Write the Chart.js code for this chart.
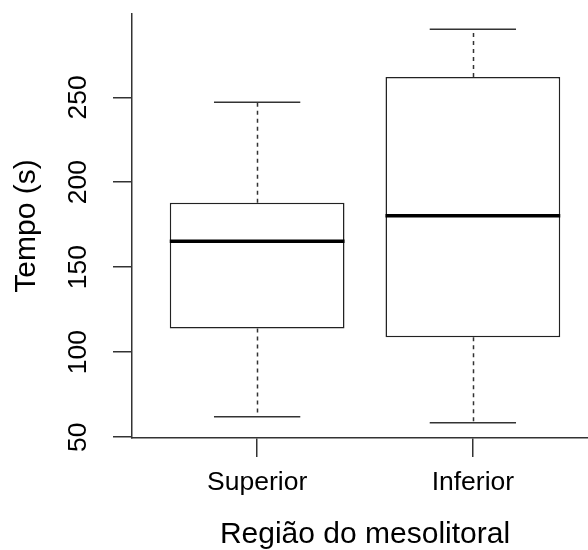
<!DOCTYPE html>
<html>
<head>
<meta charset="utf-8">
<script src="https://cdn.jsdelivr.net/npm/chart.js@4/dist/chart.umd.min.js"></script>
<style>
  html, body { margin: 0; padding: 0; background: #fff; overflow: hidden; }
  #wrap { width: 588px; height: 550px; overflow: hidden; }
</style>
</head>
<body>
<div id="wrap"><canvas id="myChart" width="600" height="550"></canvas></div>
<script>
const ctx = document.getElementById('myChart').getContext('2d');

// categories and five-number summaries
const categories = ['Superior', 'Inferior'];
const mins = [62, 58.5];
const q1s = [114, 108.8];
const medians = [165.3, 180.3];
const q3s = [188, 262];
const maxs = [247, 290];
const yTicks = [50, 100, 150, 200, 250];

const lineColor = '#333';
const fontFamily = '"Liberation Sans", Arial, sans-serif';

// whiskers, caps and median line, drawn through the chart scales
const boxExtras = {
  id: 'boxExtras',
  afterDatasetsDraw(chart) {
    const x = chart.scales.x;
    const y = chart.scales.y;
    const c = chart.ctx;
    c.save();
    for (let i = 0; i < categories.length; i++) {
      const cx = Math.round(x.getPixelForValue(i + 1)) + 0.5;
      const capL = x.getPixelForValue(i + 1 - 0.2);
      const capR = x.getPixelForValue(i + 1 + 0.2);
      const boxL = x.getPixelForValue(i + 1 - 0.405);
      const boxR = x.getPixelForValue(i + 1 + 0.405);

      c.strokeStyle = lineColor;
      c.lineWidth = 1.5;
      // dashed whiskers
      c.setLineDash([4, 4]);
      c.beginPath();
      c.moveTo(cx, y.getPixelForValue(q3s[i]));
      c.lineTo(cx, y.getPixelForValue(maxs[i]));
      c.moveTo(cx, y.getPixelForValue(q1s[i]));
      c.lineTo(cx, y.getPixelForValue(mins[i]));
      c.stroke();
      // caps
      c.setLineDash([]);
      c.beginPath();
      c.moveTo(capL, y.getPixelForValue(maxs[i]));
      c.lineTo(capR, y.getPixelForValue(maxs[i]));
      c.moveTo(capL, y.getPixelForValue(mins[i]));
      c.lineTo(capR, y.getPixelForValue(mins[i]));
      c.stroke();
      // median
      c.strokeStyle = '#000';
      c.lineWidth = 3.5;
      c.beginPath();
      c.moveTo(boxL, y.getPixelForValue(medians[i]));
      c.lineTo(boxR, y.getPixelForValue(medians[i]));
      c.stroke();
    }
    c.restore();
  }
};

const boxData = categories.map((name, i) => ({ x: i + 1, y: [q1s[i], q3s[i]] }));

const myChart = new Chart(ctx, {
  type: 'bar',
  data: {
    datasets: [
      {
        label: 'Tempo',
        data: boxData,
        backgroundColor: '#fff',
        borderColor: '#222',
        borderWidth: 1.5,
        borderSkipped: false,
        barPercentage: 0.81,
        categoryPercentage: 1,
      },
    ],
  },
  options: {
    responsive: false,
    animation: false,
    layout: { padding: { top: 14, right: 2, left: 0, bottom: 0 } },
    plugins: { legend: { display: false }, tooltip: { enabled: false } },
    scales: {
      x: {
        type: 'linear',
        min: 0.42,
        max: 2.58,
        offset: false,
        afterBuildTicks: (scale) => { scale.ticks = categories.map((c, i) => ({ value: i + 1 })); },
        afterFit: (scale) => { scale.height = 112; scale.paddingLeft = 0; scale.paddingRight = 0; },
        grid: { offset: false, drawOnChartArea: false, drawTicks: true, tickLength: 19, color: lineColor, lineWidth: 1.5 },
        border: { display: true, color: lineColor, width: 1.5 },
        ticks: {
          color: '#000',
          padding: 10,
          maxRotation: 0,
          font: { family: fontFamily, size: 26.5 },
          callback: (v) => categories[v - 1],
        },
        title: {
          display: true,
          text: 'Região do mesolitoral',
          color: '#000',
          font: { family: fontFamily, size: 30, lineHeight: 1.0 },
          padding: { top: 0, bottom: 0 },
        },
      },
      y: {
        min: 49.5,
        max: 299,
        afterBuildTicks: (scale) => { scale.ticks = yTicks.map((v) => ({ value: v })); },
        afterFit: (scale) => { scale.width = 132; scale.paddingTop = 0; scale.paddingBottom = 0; },
        grid: { drawOnChartArea: false, drawTicks: true, tickLength: 19, color: lineColor, lineWidth: 1.5 },
        border: { display: true, color: lineColor, width: 1.5 },
        ticks: {
          color: '#000',
          padding: 12,
          minRotation: 90,
          maxRotation: 90,
          crossAlign: 'center',
          font: { family: fontFamily, size: 26.5 },
        },
        title: {
          display: true,
          text: 'Tempo (s)',
          color: '#000',
          font: { family: fontFamily, size: 30, lineHeight: 1.2 },
          padding: { top: 9, bottom: 0 },
        },
      },
    },
  },
  plugins: [boxExtras],
});
</script>
</body>
</html>
